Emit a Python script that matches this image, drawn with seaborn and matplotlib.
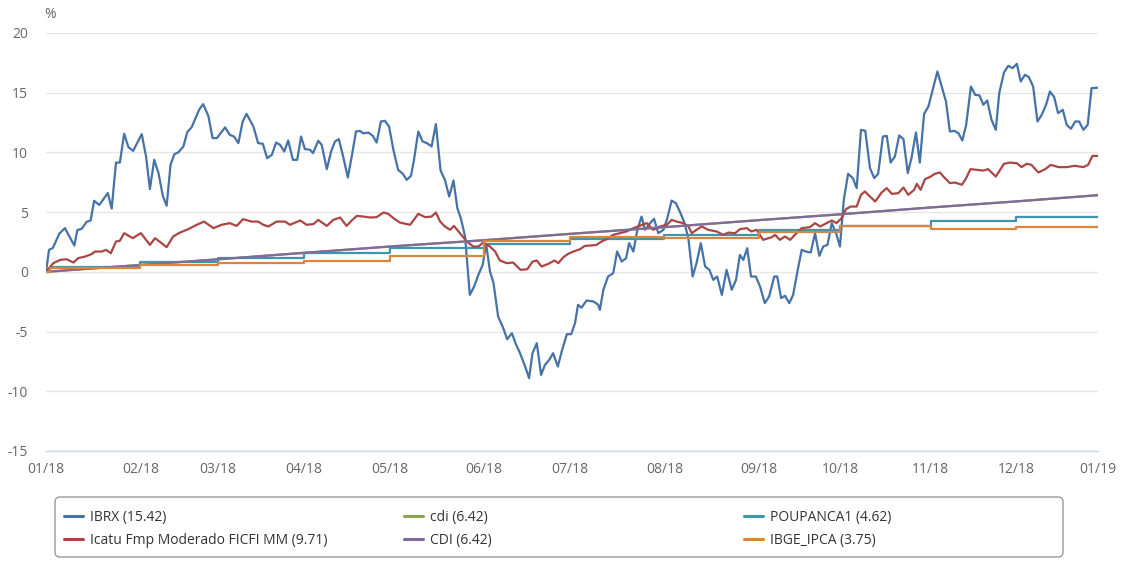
import numpy as np
import matplotlib
matplotlib.use("Agg")
import matplotlib.pyplot as plt
import seaborn as sns
from matplotlib.patches import FancyBboxPatch
from matplotlib.lines import Line2D
from matplotlib.transforms import IdentityTransform

# trading days in each month of 2018 (ordinal x axis)
month_days = [22, 18, 20, 20, 22, 20, 22, 22, 19, 21, 20, 19]
month_labels = ['01/18', '02/18', '03/18', '04/18', '05/18', '06/18', '07/18',
                '08/18', '09/18', '10/18', '11/18', '12/18', '01/19']

# IBRX cumulative return (%), by trading day
ibrx_day = [0.0, 0.7, 1.6, 3.1, 4.4, 6.6, 7.3, 8.3, 9.5, 10.4, 11.2, 12.4, 14.4, 15.3,
            16.3, 17.2, 18.2, 19.2, 20.3, 22.3, 23.3, 24.2, 25.2, 26.2, 27.2, 28.1,
            29.0, 29.9, 30.8, 32.0, 32.9, 33.9, 35.7, 36.6, 37.8, 38.8, 39.8, 41.7,
            42.8, 43.8, 44.8, 45.8, 46.7, 48.3, 49.4, 50.5, 51.5, 52.6, 53.6, 54.5,
            55.5, 56.4, 57.5, 58.5, 59.4, 60.3, 61.5, 62.2, 63.4, 64.2, 65.4, 66.4,
            67.3, 68.2, 69.2, 70.3, 71.2, 72.2, 73.1, 73.9, 75.1, 76.1, 77.0, 78.0,
            78.9, 79.9, 80.9, 82.0, 83.1, 84.0, 85.0, 85.7, 86.7, 87.7, 88.7, 89.8,
            90.8, 91.9, 92.9, 93.9, 94.9, 95.8, 96.6, 97.6, 98.7, 99.7, 100.7, 101.7,
            102.5, 103.4, 104.2, 105.3, 106.5, 107.4, 108.5, 109.5, 110.4, 111.6,
            112.5, 113.3, 114.3, 115.3, 116.2, 117.2, 118.1, 119.2, 120.1, 121.3,
            122.3, 123.2, 123.9, 124.7, 125.9, 127.5, 128.6, 129.0, 129.8, 130.9,
            132.1, 133.0, 134.1, 135.1, 135.8, 136.8, 137.7, 138.7, 139.5, 140.7,
            141.6, 142.6, 143.8, 144.7, 145.7, 146.7, 147.6, 148.6, 149.6, 150.6,
            151.5, 152.5, 153.5, 154.5, 155.4, 156.3, 157.4, 158.5, 159.7, 160.7,
            161.6, 162.4, 163.3, 164.2, 165.3, 166.3, 167.4, 168.4, 169.6, 170.3,
            171.2, 172.1, 173.1, 174.0, 175.0, 176.0, 177.0, 178.1, 179.1, 180.1,
            181.0, 182.0, 183.0, 184.0, 184.9, 185.8, 186.8, 187.9, 188.8, 189.8,
            190.8, 191.9, 192.9, 193.8, 194.9, 195.8, 196.7, 197.7, 198.7, 199.7,
            200.7, 201.6, 202.6, 203.5, 204.5, 205.5, 206.5, 207.6, 208.6, 209.6,
            210.5, 211.5, 212.5, 213.4, 214.3, 215.4, 216.4, 217.4, 218.3, 219.2,
            220.2, 221.2, 222.0, 223.1, 224.1, 225.1, 226.1, 227.0, 228.0, 228.9,
            229.9, 230.9, 231.9, 232.9, 233.8, 234.8, 235.7, 236.8, 237.7, 238.7,
            239.7, 240.6, 241.6, 242.6, 243.5, 245.0]
ibrx = [0.0, 1.84, 2.0, 3.2, 3.66, 2.2, 3.5, 3.6, 4.2, 4.3, 5.95, 5.6, 6.6, 5.3,
        9.15, 9.15, 11.56, 10.44, 10.13, 11.53, 9.66, 6.93, 9.38, 8.27, 6.37, 5.53,
        8.96, 9.86, 10.0, 10.5, 11.7, 12.1, 13.6, 14.04, 13.07, 11.2, 11.2, 12.1,
        11.47, 11.33, 10.78, 12.59, 13.23, 12.17, 10.78, 10.72, 9.52, 9.8, 10.83, 10.64,
        10.08, 11.0, 9.38, 9.38, 11.33, 10.28, 10.22, 9.94, 10.97, 10.64, 8.6, 10.08,
        10.92, 11.11, 9.66, 7.9, 9.66, 11.75, 11.8, 11.6, 11.66, 11.39, 10.83, 12.59,
        12.65, 12.17, 10.22, 8.54, 8.21, 7.7, 8.04, 9.38, 11.75, 10.92, 10.78, 10.5,
        12.37, 8.48, 7.7, 6.31, 7.65, 5.33, 4.5, 2.96, -1.93, -1.23, -0.25, 0.59,
        2.35, 0.03, -0.9, -3.74, -4.72, -5.64, -5.14, -6.11, -6.81, -7.93,
        -8.9, -6.81, -5.97, -8.63, -7.79, -7.37, -6.81, -7.93, -6.67, -5.22,
        -5.22, -4.3, -2.76, -3.0, -2.4, -2.48, -2.76, -3.18, -1.5, -0.39,
        -0.11, 1.7, 0.86, 1.15, 2.4, 1.7, 3.5, 4.63, 3.52, 4.08,
        4.44, 3.24, 3.52, 4.5, 5.97, 5.75, 5.05, 4.21, 2.82, -0.39,
        0.73, 2.4, 0.45, 0.17, -0.67, -0.39, -1.93, 0.17, -1.5, -0.67,
        1.42, 1.0, 1.98, -0.39, -0.39, -1.23, -2.62, -2.07, -0.39, -0.39,
        -2.2, -2.0, -2.62, -1.93, 0.03, 1.84, 1.7, 1.62, 3.24, 1.34,
        2.12, 2.26, 4.08, 3.24, 2.12, 6.03, 8.21, 7.85, 7.01, 11.89,
        11.81, 8.68, 7.85, 8.21, 11.33, 11.39, 9.15, 9.66, 11.42, 11.11,
        8.27, 9.6, 11.67, 9.15, 13.23, 13.84, 15.24, 16.78, 15.52, 14.26,
        11.75, 11.81, 11.61, 11.0, 12.31, 15.52, 14.82, 14.77, 13.99, 14.35,
        12.73, 11.89, 14.97, 16.69, 17.25, 17.06, 17.42, 15.94, 16.5, 16.3,
        15.52, 12.59, 13.15, 13.99, 15.1, 14.63, 13.29, 13.57, 12.31, 11.98,
        12.59, 12.59, 11.89, 12.31, 15.38, 15.42]

# Icatu Fmp Moderado FICFI MM cumulative return (%)
icatu_day = [0.0, 1.7, 3.3, 4.8, 6.4, 7.5, 9.1, 10.6, 11.4, 13.0, 14.0, 15.1, 16.3,
             17.2, 18.2, 20.2, 22.1, 24.2, 25.4, 28.1, 29.6, 31.2, 33.1, 35.1, 36.8,
             39.0, 40.9, 42.8, 44.4, 45.9, 47.9, 49.4, 50.6, 51.8, 53.7, 55.7, 56.8,
             59.2, 60.7, 62.3, 63.4, 65.4, 66.9, 68.5, 70.0, 71.2, 72.4, 73.9, 75.5,
             77.0, 78.6, 79.7, 80.9, 82.4, 84.8, 86.7, 88.3, 89.8, 90.8, 91.8, 92.9,
             94.1, 95.0, 96.4, 98.0, 99.5, 100.7, 101.8, 103.4, 104.6, 105.7, 107.3,
             108.8, 110.5, 112.1, 113.3, 114.3, 115.4, 117.0, 118.4, 119.3, 120.5,
             121.6, 122.8, 124.4, 125.5, 126.7, 128.2, 129.4, 130.6, 132.1, 133.7,
             135.2, 136.8, 137.9, 139.9, 141.4, 143.0, 144.6, 145.7, 146.9, 148.4,
             149.6, 150.4, 151.5, 152.7, 154.2, 156.2, 157.7, 158.9, 160.5, 161.6,
             163.2, 164.3, 165.5, 167.0, 169.0, 169.8, 170.9, 172.1, 173.3, 174.4,
             176.0, 177.9, 179.1, 180.3, 181.8, 183.0, 184.1, 185.3, 186.3, 187.4,
             188.8, 189.8, 190.7, 191.9, 193.1, 194.6, 195.8, 197.0, 198.5, 199.7,
             200.8, 202.2, 202.8, 203.7, 204.7, 205.9, 207.0, 208.2, 209.0, 210.5,
             211.7, 213.3, 214.3, 215.3, 216.7, 218.3, 219.4, 221.2, 223.1, 224.5,
             226.1, 227.2, 228.4, 229.5, 231.1, 232.7, 234.0, 235.8, 237.7, 239.6,
             241.6, 242.7, 243.7, 245.0]
icatu = [0.0, 0.73, 1.0, 1.06, 0.78, 1.15, 1.28, 1.48, 1.7, 1.7, 1.84, 1.56, 2.54,
         2.6, 3.24, 2.82, 3.24, 2.26, 2.82, 2.07, 2.96, 3.29, 3.57, 3.94, 4.21,
         3.66, 3.94, 4.08, 3.85, 4.41, 4.21, 4.21, 3.94, 3.8, 4.21, 4.21, 3.94,
         4.3, 3.94, 4.0, 4.35, 3.85, 4.35, 4.55, 3.85, 4.3, 4.69, 4.63, 4.55,
         4.58, 4.97, 4.86, 4.5, 4.13, 3.94, 4.86, 4.58, 4.63, 4.97, 4.21, 3.8,
         3.52, 3.85, 3.24, 2.54, 2.12, 2.12, 2.45, 2.12, 1.7, 0.95, 0.73,
         0.78, 0.17, 0.22, 0.86, 0.95, 0.45, 0.67, 0.95, 0.73, 1.23,
         1.51, 1.7, 1.9, 2.18, 2.2, 2.26, 2.54, 2.74, 3.1, 3.24,
         3.38, 3.66, 3.8, 4.08, 3.52, 3.8, 3.94, 4.35, 4.21, 4.08,
         3.8, 3.24, 3.52, 3.8, 3.52, 3.38, 3.1, 3.29, 3.24, 3.57,
         3.66, 3.38, 3.52, 2.68, 2.9, 3.1, 2.68, 2.96, 2.68, 3.1,
         3.66, 3.74, 4.08, 3.8, 4.08, 4.3, 4.08, 4.5, 5.25, 5.47,
         5.47, 6.45, 6.73, 6.31, 5.89, 6.64, 7.01, 6.53, 6.59, 7.06,
         6.45, 6.87, 7.37, 6.87, 7.76, 7.95, 8.21, 8.32, 7.98, 7.43,
         7.48, 7.29, 7.85, 8.6, 8.54, 8.48, 8.6, 7.98, 9.05, 9.15,
         9.1, 8.77, 9.05, 8.96, 8.32, 8.6, 8.96, 8.77, 8.77, 8.88,
         8.77, 8.96, 9.71, 9.71]

# CDI accumulated at the first trading day of each month (%)
cdi_month = [0.0, 0.58, 1.05, 1.59, 2.12, 2.65, 3.18, 3.74, 4.33, 4.82, 5.39, 5.90, 6.42]
# monthly accumulated POUPANCA1 and IPCA (%)
poupanca_month = [0.40, 0.80, 1.19, 1.58, 1.97, 2.35, 2.73, 3.11, 3.49, 3.88, 4.25, 4.62]
ipca_month = [0.29, 0.61, 0.70, 0.92, 1.33, 2.60, 2.94, 2.85, 3.34, 3.81, 3.59, 3.75]

colors = {'IBRX': '#4572A7', 'Icatu': '#AA4643', 'cdi': '#89A54E',
          'CDI': '#80699B', 'POUPANCA1': '#3D96AE', 'IBGE_IPCA': '#DB843D'}

month_start = np.concatenate([[0], np.cumsum(month_days)])
step_x = np.concatenate([[0, 1], month_start[1:12], [month_start[-1]]])

sns.set_style('white')
plt.rcParams['font.family'] = ['Open Sans', 'DejaVu Sans']
plt.rcParams['axes.unicode_minus'] = False

W, H = 1121, 561
fig = plt.figure(figsize=(W / 100, H / 100), dpi=100)
ax = fig.add_axes([46 / W, 1 - 451 / H, (1098 - 46) / W, (451 - 33) / H])

lw = 1.6
sns.lineplot(x=ibrx_day, y=ibrx, ax=ax, color=colors['IBRX'], lw=lw,
             estimator=None, sort=False)
sns.lineplot(x=month_start, y=cdi_month, ax=ax, color=colors['cdi'], lw=lw,
             estimator=None, sort=False)
sns.lineplot(x=step_x, y=[0] + poupanca_month + [poupanca_month[-1]], ax=ax,
             color=colors['POUPANCA1'], lw=lw, drawstyle='steps-post',
             estimator=None, sort=False)
sns.lineplot(x=icatu_day, y=icatu, ax=ax, color=colors['Icatu'], lw=lw,
             estimator=None, sort=False)
sns.lineplot(x=month_start, y=cdi_month, ax=ax, color=colors['CDI'], lw=lw,
             estimator=None, sort=False)
sns.lineplot(x=step_x, y=[0] + ipca_month + [ipca_month[-1]], ax=ax,
             color=colors['IBGE_IPCA'], lw=lw, drawstyle='steps-post',
             estimator=None, sort=False)

ax.set_xlim(0, month_start[-1])
ax.set_ylim(-15, 20)
ax.set_yticks(range(-15, 21, 5))
ax.set_xticks(month_start)
ax.set_xticklabels(month_labels)
ax.set_xlabel('')
ax.set_ylabel('')
ax.yaxis.grid(True, color='#e6e6e6', lw=1)
ax.xaxis.grid(False)
for s in ['top', 'right', 'left']:
    ax.spines[s].set_visible(False)
ax.spines['bottom'].set_color('#ccd6eb')
ax.spines['bottom'].set_linewidth(1)
ax.tick_params(axis='y', length=0, pad=13, labelsize=10, labelcolor='#666666')
ax.tick_params(axis='x', length=6, width=1, color='#ccd6eb', pad=2,
               labelsize=10, labelcolor='#666666', direction='out')

fig.text(50 / W, 1 - 15 / H, '%', ha='center', va='center', fontsize=10, color='#666666')

# legend: three fixed-width columns inside one rounded box
names = [('IBRX', ibrx), ('Icatu Fmp Moderado FICFI MM', icatu),
         ('cdi', cdi_month), ('CDI', cdi_month),
         ('POUPANCA1', poupanca_month), ('IBGE_IPCA', ipca_month)]
keys = ['IBRX', 'Icatu', 'cdi', 'CDI', 'POUPANCA1', 'IBGE_IPCA']
handles = [Line2D([], [], color=colors[k], lw=2.2) for k in keys]
labels = [f'{n} ({v[-1]:.2f})' for n, v in names]
col_x = [57, 397, 737]
for i, cx in enumerate(col_x):
    leg = fig.legend(handles[2 * i:2 * i + 2], labels[2 * i:2 * i + 2],
                     loc='center left', bbox_to_anchor=(cx / W, 1 - 529 / H),
                     frameon=False, fontsize=10, handlelength=1.4,
                     handletextpad=0.45, labelspacing=0.55, borderpad=0,
                     labelcolor='#333333')
box = FancyBboxPatch((55, H - 557), 1008, 60, boxstyle='round,pad=0,rounding_size=5',
                     transform=IdentityTransform(), fc='none', ec='#999999', lw=1)
fig.patches.append(box)

fig.savefig('out.png', dpi=100, facecolor='white')
